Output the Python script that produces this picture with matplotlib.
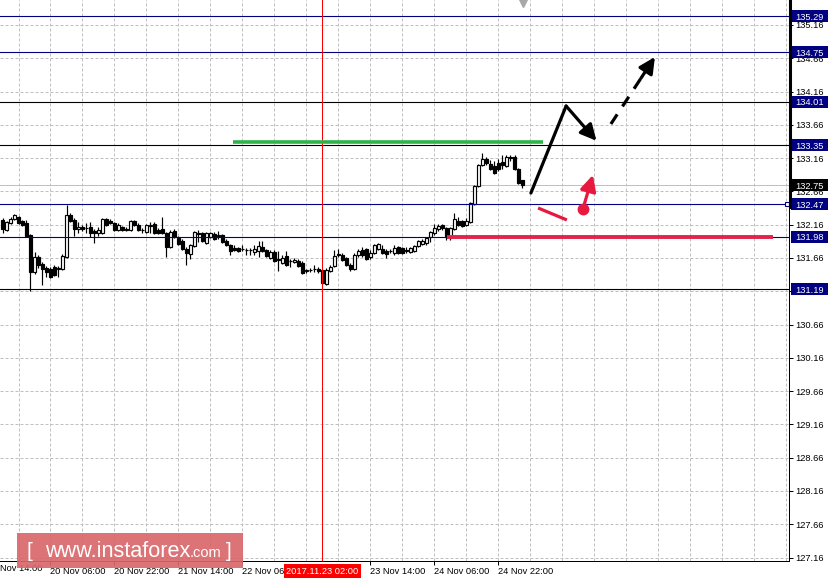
import numpy as np
import pandas as pd
import matplotlib
matplotlib.use('Agg')
import matplotlib.pyplot as plt
from matplotlib.patches import Rectangle
from matplotlib.lines import Line2D
from matplotlib.transforms import blended_transform_factory as blend

# ---------------- data (EUR/JPY H1) ----------------
opens = [132.231,132.080,132.186,132.246,132.276,132.216,132.186,132.005,131.450,131.675,
         131.570,131.510,131.495,131.525,131.495,131.495,131.675,132.306,132.231,132.096,
         132.126,132.111,132.126,132.065,132.035,132.035,132.246,132.216,132.186,132.080,
         132.126,132.080,132.080,132.216,132.156,132.080,132.050,132.141,132.171,132.080,
         132.096,132.035,131.825,132.065,131.960,131.915,131.795,131.720,131.840,132.020,
         132.035,131.885,131.975,132.020,131.990,132.005,131.915,131.855,131.810,131.810,
         131.788,131.780,131.780,131.750,131.765,131.825,131.780,131.660,131.750,131.630,
         131.585,131.690,131.608,131.600,131.615,131.585,131.465,131.473,131.488,131.495,
         131.480,131.270,131.465,131.540,131.720,131.705,131.660,131.555,131.495,131.705,
         131.780,131.795,131.675,131.735,131.795,131.795,131.765,131.758,131.735,131.825,
         131.810,131.765,131.750,131.765,131.840,131.870,131.878,131.975,132.028,132.096,
         132.148,132.103,131.983,132.088,132.216,132.216,132.148,132.208,132.471,132.734,
         133.057,133.140,133.065,133.035,133.080,133.095,133.035,133.162,133.177,132.997,
         132.824]
highs = [132.261,132.216,132.276,132.321,132.291,132.231,132.231,132.020,131.750,131.705,
         131.600,131.540,131.525,131.555,131.540,131.720,132.456,132.336,132.261,132.201,
         132.156,132.186,132.201,132.096,132.126,132.261,132.261,132.246,132.201,132.186,
         132.141,132.126,132.231,132.231,132.186,132.111,132.171,132.201,132.201,132.111,
         132.276,132.050,132.080,132.096,131.990,131.945,131.825,131.870,132.065,132.080,
         132.050,132.050,132.050,132.050,132.065,132.020,131.945,131.870,131.855,131.825,
         131.855,131.810,131.810,131.855,131.915,131.915,131.795,131.780,131.780,131.765,
         131.705,131.765,131.645,131.660,131.645,131.615,131.495,131.510,131.555,131.525,
         131.495,131.510,131.555,131.780,131.795,131.735,131.675,131.585,131.735,131.795,
         131.825,131.810,131.780,131.870,131.885,131.855,131.795,131.795,131.855,131.840,
         131.825,131.825,131.825,131.855,131.930,131.945,131.975,132.065,132.171,132.163,
         132.163,132.126,132.126,132.343,132.276,132.231,132.268,132.508,132.756,133.072,
         133.237,133.170,133.125,133.117,133.140,133.207,133.200,133.207,133.200,133.012,
         132.839]
lows = [132.035,132.065,132.171,132.231,132.171,132.141,131.975,131.165,131.420,131.510,
        131.255,131.375,131.360,131.390,131.375,131.480,131.660,132.201,131.990,132.035,
        132.065,132.035,131.975,131.885,131.990,132.020,132.141,132.171,132.065,132.065,
        132.065,132.065,132.065,132.141,132.065,132.035,132.035,132.035,132.020,132.020,
        132.020,131.675,131.810,131.960,131.855,131.780,131.555,131.645,131.825,131.900,
        131.900,131.870,131.960,131.930,131.945,131.885,131.840,131.705,131.765,131.750,
        131.765,131.705,131.705,131.705,131.675,131.750,131.675,131.645,131.600,131.465,
        131.570,131.540,131.525,131.585,131.525,131.420,131.435,131.450,131.450,131.435,
        131.270,131.255,131.450,131.525,131.675,131.615,131.540,131.465,131.480,131.675,
        131.675,131.630,131.645,131.720,131.780,131.720,131.660,131.735,131.705,131.720,
        131.720,131.735,131.735,131.750,131.825,131.855,131.855,131.900,132.005,132.065,
        132.073,131.930,131.923,132.073,132.133,132.126,132.133,132.193,132.456,132.726,
        133.042,133.050,132.975,132.915,132.967,132.997,133.027,133.117,132.982,132.764,
        132.704]
closes = [132.096,132.201,132.246,132.306,132.186,132.156,131.990,131.450,131.675,131.555,
          131.495,131.450,131.375,131.405,131.510,131.690,132.306,132.216,132.096,132.126,
          132.088,132.106,132.035,132.035,132.080,132.246,132.156,132.186,132.080,132.156,
          132.080,132.096,132.216,132.156,132.080,132.085,132.156,132.156,132.035,132.035,
          132.035,131.825,132.050,131.975,131.870,131.795,131.735,131.855,132.050,132.035,
          131.915,132.035,132.035,131.945,132.005,131.900,131.855,131.765,131.780,131.765,
          131.795,131.775,131.785,131.795,131.840,131.765,131.690,131.750,131.615,131.645,
          131.660,131.555,131.615,131.630,131.540,131.435,131.473,131.480,131.495,131.465,
          131.285,131.480,131.525,131.690,131.698,131.630,131.555,131.495,131.705,131.765,
          131.705,131.645,131.735,131.855,131.870,131.735,131.720,131.765,131.810,131.735,
          131.735,131.773,131.810,131.840,131.915,131.915,131.960,132.043,132.103,132.133,
          132.111,131.983,132.103,132.246,132.156,132.133,132.223,132.486,132.734,133.057,
          133.140,133.080,132.997,132.930,132.997,133.057,133.177,133.170,132.997,132.786,
          132.750]

first_bar = pd.Timestamp('2017-11-19 18:00')
marked_time = pd.Timestamp('2017-11-23 02:00')
marked_label = '2017.11.23 02:00'
time_ticks = ['2017-11-19 14:00', '2017-11-20 06:00', '2017-11-20 22:00',
              '2017-11-21 14:00', '2017-11-22 06:00', '2017-11-23 14:00',
              '2017-11-24 06:00', '2017-11-24 22:00']
price_ticks = [135.16, 134.66, 134.16, 133.66, 133.16, 132.66, 132.16, 131.66,
               131.16, 130.66, 130.16, 129.66, 129.16, 128.66, 128.16, 127.66, 127.16]
levels_navy = [135.29, 134.75, 132.47, 131.98]
levels_black = [134.01, 133.35, 131.19]
last_price = 132.75
green_level = 133.40
red_level = 131.97

# forecast sketch (bar index, price)
fc_black_x = [132.1, 140.9, 148.5]
fc_black_y = [132.636, 133.943, 133.42]
fc_dash_x = [152.1, 163.1]
fc_dash_y = [133.673, 134.679]
fc_red_x = [133.9, 141.1]
fc_red_y = [132.411, 132.231]
fc_redarrow_x = [145.1, 147.6]
fc_redarrow_y = [132.396, 132.907]
green_span = (57.6, 135.1)
red_span = (111.1, 192.6)

# ---------------- figure ----------------
plt.rcParams['font.family'] = ['Liberation Sans', 'DejaVu Sans']
W, H = 831, 582
PX = 72 / 100.0
fig = plt.figure(figsize=(W / 100, H / 100), dpi=100)
ax = fig.add_axes([0, 21 / H, 789 / W, 561 / H])
ax.set_xlim(-0.625, 196.625)
ax.set_ylim(127.108, 135.5355)

def bar_pos(t):
    return (pd.Timestamp(t) - first_bar) / pd.Timedelta(hours=1)

n = len(opens)
x = np.arange(n)
o = np.array(opens); h = np.array(highs); l = np.array(lows); c = np.array(closes)

grid_col = '#c0c0c0'
for p in price_ticks:
    ax.axhline(p, color=grid_col, lw=PX, ls=(0, (3, 2)), zorder=0.5)
grid_times = pd.date_range('2017-11-19 22:00', periods=25, freq='8h')
for t in grid_times:
    ax.axvline(bar_pos(t), color=grid_col, lw=PX, ls=(0, (3, 2)), zorder=0.5)

ax.axhline(last_price, color='#c0c0c0', lw=PX, zorder=0.6)

# candles
ax.vlines(x, l, h, color='black', lw=0.85, zorder=1.9)
bull = c >= o
ax.bar(x, np.abs(c - o), bottom=np.minimum(o, c), width=0.6,
       color=np.where(bull, 'white', 'black'), edgecolor='black', linewidth=0.85, zorder=2)

# levels
for p in levels_navy:
    ax.axhline(p, color='#000080', lw=PX * 1.1, zorder=3)
for p in levels_black:
    ax.axhline(p, color='black', lw=PX * 1.1, zorder=3)

mx = bar_pos(marked_time)
ax.axvline(mx, color='red', lw=PX, zorder=3)

ax.plot(green_span, [green_level] * 2, color='#2db34a', lw=2.6, solid_capstyle='butt', zorder=4)
ax.plot(red_span, [red_level] * 2, color='#e2234c', lw=2.8, solid_capstyle='butt', zorder=4)

# forecast arrows
ax.plot(fc_black_x[:2], fc_black_y[:2], color='black', lw=2.3, solid_capstyle='round', zorder=5)
ax.annotate('', xy=(fc_black_x[2], fc_black_y[2]), xytext=(fc_black_x[1], fc_black_y[1]),
            arrowprops=dict(arrowstyle='-|>,head_length=0.8,head_width=0.4', lw=2.3,
                            color='black', shrinkA=0, shrinkB=0, mutation_scale=12), zorder=5)
fr = 0.68
mxd = fc_dash_x[0] + fr * (fc_dash_x[1] - fc_dash_x[0])
myd = fc_dash_y[0] + fr * (fc_dash_y[1] - fc_dash_y[0])
ax.plot([fc_dash_x[0], mxd], [fc_dash_y[0], myd], color='black', lw=2.3,
        ls=(0, (3.6, 3.0)), zorder=5)
ax.annotate('', xy=(fc_dash_x[1], fc_dash_y[1]), xytext=(mxd, myd),
            arrowprops=dict(arrowstyle='-|>,head_length=0.8,head_width=0.4', lw=2.3,
                            color='black', shrinkA=0, shrinkB=0, mutation_scale=12), zorder=5)
ax.plot(fc_red_x, fc_red_y, color='#e8193f', lw=2.3, solid_capstyle='butt', zorder=5)
ax.plot(fc_redarrow_x[0], fc_redarrow_y[0], 'o', color='#e8193f', ms=7.5, zorder=5)
ax.annotate('', xy=(fc_redarrow_x[1], fc_redarrow_y[1]), xytext=(fc_redarrow_x[0], fc_redarrow_y[0]),
            arrowprops=dict(arrowstyle='-|>,head_length=0.8,head_width=0.4', lw=2.3,
                            color='#e8193f', shrinkA=0, shrinkB=0, mutation_scale=12), zorder=5)

# chart-shift marker and end marker
ax.plot(n - 0.9, 135.49, marker='v', color='#a8a8a8', ms=6, clip_on=False, zorder=6)
ax.plot(196.1, 132.465, marker='s', mfc='white', mec='#000080', ms=3.2, mew=0.8,
        clip_on=False, zorder=6)

# axes styling
for s in ('top', 'left'):
    ax.spines[s].set_visible(False)
ax.spines['right'].set_linewidth(PX)
ax.spines['bottom'].set_linewidth(PX)
ax.yaxis.tick_right()
ax.set_yticks(price_ticks)
ax.set_yticklabels([f'{p:.2f}' for p in price_ticks])
ax.tick_params(axis='y', direction='out', length=3, width=PX, pad=1.5, labelsize=6.7)

tick_pos = [bar_pos(t) for t in time_ticks]
tick_lab = [pd.Timestamp(t).strftime('%d Nov %H:%M').lstrip('0') for t in time_ticks]
ax.set_xticks(tick_pos[1:])
ax.set_xticklabels(tick_lab[1:])
for lab in ax.get_xticklabels():
    lab.set_ha('left')
ax.tick_params(axis='x', direction='out', length=3, width=PX, pad=1.5, labelsize=6.7)
ax.text(tick_pos[0], -0.0055, tick_lab[0], transform=blend(ax.transData, ax.transAxes),
        ha='left', va='top', fontsize=6.7, clip_on=False)

# thick part of price scale line
fig.add_artist(Line2D([790.3 / W] * 2, [1, 1 - 207 / H], transform=fig.transFigure,
                      lw=2.2, color='black'))

# level price boxes
tr = blend(fig.transFigure, ax.transData)
hpx = 0.015022
boxes = [(p, '#000080') for p in levels_navy + levels_black] + [(last_price, 'black')]
for p, col in boxes:
    x0 = 789.5 if col == 'black' else 791
    ax.add_patch(Rectangle((x0 / W, p - 6 * hpx), (828 - x0) / W, 12 * hpx, transform=tr,
                           fc=col, ec='none', clip_on=False, zorder=7))
    ax.text(795 / W, p, f'{p:.2f}', transform=tr, color='white', fontsize=6.7,
            ha='left', va='center_baseline', clip_on=False, zorder=8)

# marked time label
ax.text(mx, (H - 571) / H, marked_label, transform=blend(ax.transData, fig.transFigure),
        color='white', fontsize=6.7, ha='center', va='center',
        bbox=dict(boxstyle='square,pad=0.22', fc='red', ec='none'), zorder=8, clip_on=False)

# watermark
ax.add_patch(Rectangle((17 / W, (H - 568) / H), 226 / W, 35 / H, transform=fig.transFigure,
                       fc='#d9676a', ec='none', alpha=0.92, clip_on=False, zorder=9))
tb = fig.transFigure
yb = (H - 557) / H
ax.text(27 / W, yb, '[', transform=tb, color='white', fontsize=15, va='baseline', zorder=10)
ax.text(45 / W, yb, 'www.instaforex', transform=tb, color='white', fontsize=15.6,
        va='baseline', zorder=10)
ax.text(190 / W, yb, '.com', transform=tb, color='white', fontsize=10.5, va='baseline', zorder=10)
ax.text(226 / W, yb, ']', transform=tb, color='white', fontsize=15, va='baseline', zorder=10)

fig.savefig('out.png', dpi=100)
